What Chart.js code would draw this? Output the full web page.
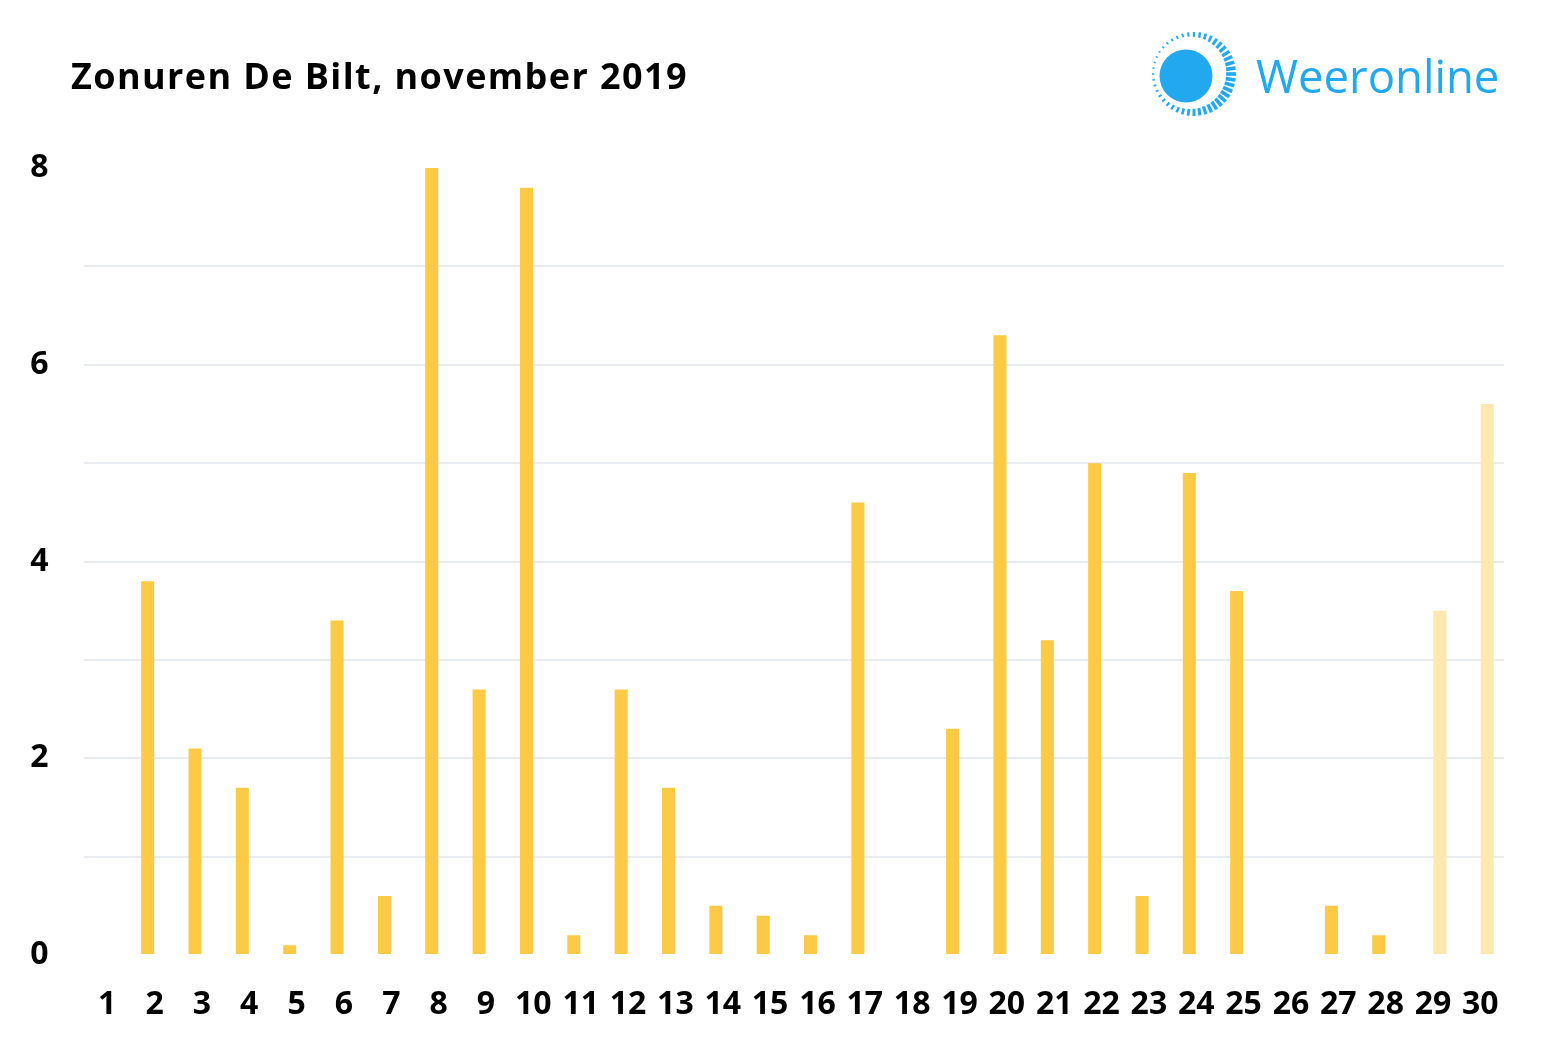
<!DOCTYPE html>
<html>
<head>
<meta charset="utf-8">
<script src="https://cdn.jsdelivr.net/npm/chart.js@4.4.1/dist/chart.umd.min.js"></script>
<style>
  html, body { margin: 0; padding: 0; background: #fff; }
  #wrap { position: relative; width: 1542px; height: 1052px; }
  #title { position: absolute; left: 71px; top: 53px; font-family: "Open Sans", sans-serif; font-weight: 700; font-size: 36px; letter-spacing: 1.4px; color: #000; white-space: nowrap; line-height: 46px; }
  #brand { position: absolute; left: 1256px; top: 45px; font-family: "Open Sans", sans-serif; font-weight: 400; font-size: 45.5px; color: #22a8ee; white-space: nowrap; line-height: 60px; }
  #c { position: absolute; left: 0; top: 0; }
</style>
</head>
<body>
<div id="wrap">
  <canvas id="c" width="1542" height="1052"></canvas>
  <div id="title">Zonuren De Bilt, november 2019</div>
  <div id="brand">Weeronline</div>
</div>
<script>
const days = ['1','2','3','4','5','6','7','8','9','10','11','12','13','14','15','16','17','18','19','20','21','22','23','24','25','26','27','28','29','30'];
const measured = [0, 3.8, 2.1, 1.7, 0.1, 3.4, 0.6, 8.0, 2.7, 7.8, 0.2, 2.7, 1.7, 0.5, 0.4, 0.2, 4.6, 0, 2.3, 6.3, 3.2, 5.0, 0.6, 4.9, 3.7, 0, 0.5, 0.2, null, null];
const expected = [null, null, null, null, null, null, null, null, null, null, null, null, null, null, null, null, null, null, null, null, null, null, null, null, null, null, null, null, 3.5, 5.6];
const yTicks = [0, 2, 4, 6, 8];

const logoPlugin = {
  id: 'logo',
  afterDraw(chart) {
    const ctx = chart.ctx;
    ctx.save();
    ctx.fillStyle = '#22a8ee';
    ctx.beginPath();
    ctx.arc(1186, 76, 26.5, 0, Math.PI * 2);
    ctx.fill();
    const cx = 1194, cy = 74;
    ctx.strokeStyle = '#22a8ee';
    const n = 44;
    for (let i = 0; i < n; i++) {
      const a = i / n * Math.PI * 2;
      const w = (1 + Math.cos(a - 0.3)) / 2;
      const len = 2 + w * 8;
      const r2 = 42;
      const r1 = r2 - len;
      ctx.lineWidth = 1.5 + w * 2.2;
      ctx.beginPath();
      ctx.moveTo(cx + Math.cos(a) * r1, cy + Math.sin(a) * r1);
      ctx.lineTo(cx + Math.cos(a) * r2, cy + Math.sin(a) * r2);
      ctx.stroke();
    }
    ctx.restore();
  }
};

new Chart(document.getElementById('c'), {
  type: 'bar',
  data: {
    labels: days,
    datasets: [
      { label: 'Gemeten', data: measured, backgroundColor: '#fdca45', categoryPercentage: 0.58, barPercentage: 0.95 },
      { label: 'Verwacht', data: expected, backgroundColor: '#fde8b0', categoryPercentage: 0.58, barPercentage: 0.95 }
    ]
  },
  options: {
    responsive: false,
    animation: false,
    layout: { padding: { left: 0, right: 38, top: 168, bottom: 20 } },
    plugins: { legend: { display: false }, tooltip: { enabled: false } },
    scales: {
      x: {
        grid: { display: false, drawTicks: false },
        border: { display: false },
        ticks: { color: '#000', font: { family: 'Open Sans', weight: 'bold', size: 32 }, padding: 31, maxRotation: 0, autoSkip: false },
        afterFit(s) { s.height = 77; }
      },
      y: {
        min: 0, max: 8,
        border: { display: false },
        grid: {
          drawTicks: false,
          lineWidth: 2,
          color: (c) => (c.tick && (c.tick.value === 0 || c.tick.value === 8)) ? 'rgba(0,0,0,0)' : '#e8ecf0'
        },
        ticks: {
          stepSize: 1,
          color: '#000',
          font: { family: 'Open Sans', weight: 'bold', size: 32 },
          padding: 35,
          callback: (v) => yTicks.includes(v) ? String(v) : ''
        },
        afterFit(s) { s.width = 83.5; }
      }
    }
  },
  plugins: [logoPlugin]
});
</script>
</body>
</html>
